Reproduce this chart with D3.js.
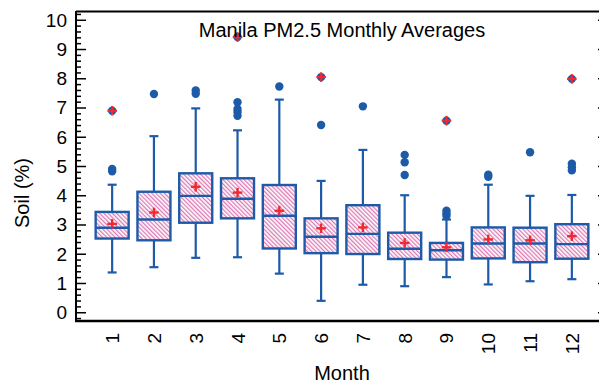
<!DOCTYPE html>
<html>
<head>
<meta charset="utf-8">
<script src="https://cdn.jsdelivr.net/npm/d3@7"></script>
<style>
  html, body { margin: 0; padding: 0; background: #fff; }
  svg { display: block; font-family: "Liberation Sans", Arial, Helvetica, sans-serif; }
</style>
</head>
<body>
<svg id="chart" width="599" height="383"></svg>
<script>
// ---- data ----
const months      = ["1","2","3","4","5","6","7","8","9","10","11","12"];
const whiskerLow  = [1.36, 1.54, 1.86, 1.88, 1.32, 0.39, 0.94, 0.89, 1.20, 0.95, 1.06, 1.13];
const q1          = [2.52, 2.46, 3.06, 3.21, 2.18, 2.02, 1.99, 1.82, 1.80, 1.84, 1.71, 1.83];
const medians     = [2.89, 3.17, 3.98, 3.88, 3.30, 2.58, 2.68, 2.17, 2.12, 2.35, 2.35, 2.33];
const q3          = [3.43, 4.12, 4.75, 4.58, 4.35, 3.21, 3.66, 2.72, 2.37, 2.90, 2.89, 3.01];
const whiskerHigh = [4.36, 6.02, 6.97, 6.22, 7.27, 4.49, 5.55, 4.00, 3.17, 4.36, 3.98, 4.01];
const means       = [3.02, 3.41, 4.29, 4.09, 3.47, 2.87, 2.90, 2.37, 2.22, 2.49, 2.46, 2.60];
const outliers    = [[4.90, 4.82], [7.46], [7.58, 7.47], [7.18, 6.95, 6.85, 6.72], [7.72], [6.40], [7.04],
                     [5.38, 5.13, 4.69], [3.47, 3.38, 3.30], [4.70, 4.63], [5.47], [5.08, 4.96, 4.85]];
const farOutliers = [[6.89], [], [], [9.41], [], [8.04], [], [], [6.55], [], [], [7.98]];
const yTicks      = [0, 1, 2, 3, 4, 5, 6, 7, 8, 9, 10];

const title  = "Manila PM2.5 Monthly Averages";
const xTitle = "Month";
const yTitle = "Soil (%)";

// ---- layout ----
const svg = d3.select("#chart");
const L = 76, R = 608, T = 11, B = 321;
const blue = "#1d5ba9", red = "#ee2a30", pink = "#d563a8";

const x = d3.scalePoint().domain(months).range([L, R]).padding(0.865);
const y = d3.scaleLinear().domain([-0.3, 10.3]).range([B, T]);

// hatch pattern
const defs = svg.append("defs");
const pat = defs.append("pattern")
  .attr("id", "hatch").attr("patternUnits", "userSpaceOnUse")
  .attr("width", 3).attr("height", 3)
  .attr("patternTransform", "rotate(-45)");
pat.append("rect").attr("width", 3).attr("height", 3).attr("fill", "#fff");
pat.append("line").attr("x1", 0.7).attr("y1", 0).attr("x2", 0.7).attr("y2", 3)
  .attr("stroke", pink).attr("stroke-width", 1.1);

// frame: top line
svg.append("line").attr("x1", L).attr("x2", 599).attr("y1", T + 0.5).attr("y2", T + 0.5)
  .attr("stroke", "#000").attr("stroke-width", 2);

// left axis with inward ticks
const minorVals = d3.range(-0.2, 10.3, 0.2).map(v => +v.toFixed(1)).filter(v => Math.abs(v - Math.round(v)) > 1e-6);
const gL = svg.append("g").attr("transform", `translate(${L},0)`);
gL.append("g").call(d3.axisRight(y).tickValues(minorVals).tickSize(5).tickFormat(""))
  .call(g => g.select(".domain").remove())
  .call(g => g.selectAll("line").attr("stroke", "#000").attr("stroke-width", 1.5));
gL.append("g").call(d3.axisRight(y).tickValues(yTicks).tickSize(10).tickFormat(""))
  .call(g => g.select(".domain").remove())
  .call(g => g.selectAll("line").attr("stroke", "#000").attr("stroke-width", 1.5));
gL.append("line").attr("x1", 0).attr("x2", 0).attr("y1", T).attr("y2", B + 1)
  .attr("stroke", "#000").attr("stroke-width", 2);
gL.selectAll("text.ylab").data(yTicks).join("text").attr("class", "ylab")
  .attr("x", -9).attr("y", d => y(d)).attr("dy", "0.36em")
  .attr("text-anchor", "end").attr("font-size", 19).attr("fill", "#000").text(d => d);

// right axis (mostly off-canvas) with inward ticks
const gR = svg.append("g").attr("transform", `translate(${R},0)`);
gR.append("g").call(d3.axisLeft(y).tickValues(yTicks).tickSize(10).tickFormat(""))
  .call(g => g.select(".domain").remove())
  .call(g => g.selectAll("line").attr("stroke", "#000").attr("stroke-width", 1.5));

// bottom axis
svg.append("line").attr("x1", L - 1).attr("x2", 599).attr("y1", B).attr("y2", B)
  .attr("stroke", "#000").attr("stroke-width", 2.5);
svg.selectAll("text.xlab").data(months).join("text").attr("class", "xlab")
  .attr("transform", d => `translate(${x(d) + 7},${B + 12}) rotate(-90)`)
  .attr("text-anchor", "end").attr("font-size", 19).attr("fill", "#000").text(d => d);

// boxes
const bw = 33, capW = 9;
const data = months.map((m, i) => ({
  m, lo: whiskerLow[i], q1: q1[i], med: medians[i], q3: q3[i], hi: whiskerHigh[i],
  mean: means[i], out: outliers[i], far: farOutliers[i]
}));
const g = svg.append("g");
const box = g.selectAll("g.box").data(data).join("g").attr("class", "box");

box.append("line").attr("x1", d => x(d.m)).attr("x2", d => x(d.m))
  .attr("y1", d => y(d.q3)).attr("y2", d => y(d.hi)).attr("stroke", blue).attr("stroke-width", 2.2);
box.append("line").attr("x1", d => x(d.m)).attr("x2", d => x(d.m))
  .attr("y1", d => y(d.q1)).attr("y2", d => y(d.lo)).attr("stroke", blue).attr("stroke-width", 2.2);
box.append("line").attr("x1", d => x(d.m) - capW / 2).attr("x2", d => x(d.m) + capW / 2)
  .attr("y1", d => y(d.hi)).attr("y2", d => y(d.hi)).attr("stroke", blue).attr("stroke-width", 2.2);
box.append("line").attr("x1", d => x(d.m) - capW / 2).attr("x2", d => x(d.m) + capW / 2)
  .attr("y1", d => y(d.lo)).attr("y2", d => y(d.lo)).attr("stroke", blue).attr("stroke-width", 2.2);
box.append("rect").attr("x", d => x(d.m) - bw / 2).attr("width", bw)
  .attr("y", d => y(d.q3)).attr("height", d => y(d.q1) - y(d.q3))
  .attr("fill", "url(#hatch)").attr("stroke", blue).attr("stroke-width", 2.4);
box.append("line").attr("x1", d => x(d.m) - bw / 2).attr("x2", d => x(d.m) + bw / 2)
  .attr("y1", d => y(d.med)).attr("y2", d => y(d.med)).attr("stroke", blue).attr("stroke-width", 2.4);

// mean plus
const plus = (sel, cx, cy, s, w) => {
  sel.append("line").attr("x1", cx - s).attr("x2", cx + s).attr("y1", cy).attr("y2", cy)
    .attr("stroke", red).attr("stroke-width", w);
  sel.append("line").attr("x1", cx).attr("x2", cx).attr("y1", cy - s).attr("y2", cy + s)
    .attr("stroke", red).attr("stroke-width", w);
};
box.each(function (d) { plus(d3.select(this), x(d.m), y(d.mean), 4.8, 2.4); });

// outliers
box.each(function (d) {
  const s = d3.select(this);
  d.out.forEach(v => s.append("circle").attr("cx", x(d.m)).attr("cy", y(v)).attr("r", 4.2).attr("fill", blue));
  d.far.forEach(v => {
    s.append("circle").attr("cx", x(d.m)).attr("cy", y(v)).attr("r", 4.2).attr("fill", blue);
    plus(s, x(d.m), y(v), 4.8, 2.2);
  });
});

// titles
svg.append("text").attr("x", 342).attr("y", 37).attr("text-anchor", "middle")
  .attr("font-size", 20).attr("fill", "#000").text(title);
svg.append("text").attr("x", 342).attr("y", 380).attr("text-anchor", "middle")
  .attr("font-size", 20).attr("fill", "#000").text(xTitle);
svg.append("text").attr("transform", "translate(29,193) rotate(-90)").attr("text-anchor", "middle")
  .attr("font-size", 20).attr("fill", "#000").text(yTitle);
</script>
</body>
</html>
